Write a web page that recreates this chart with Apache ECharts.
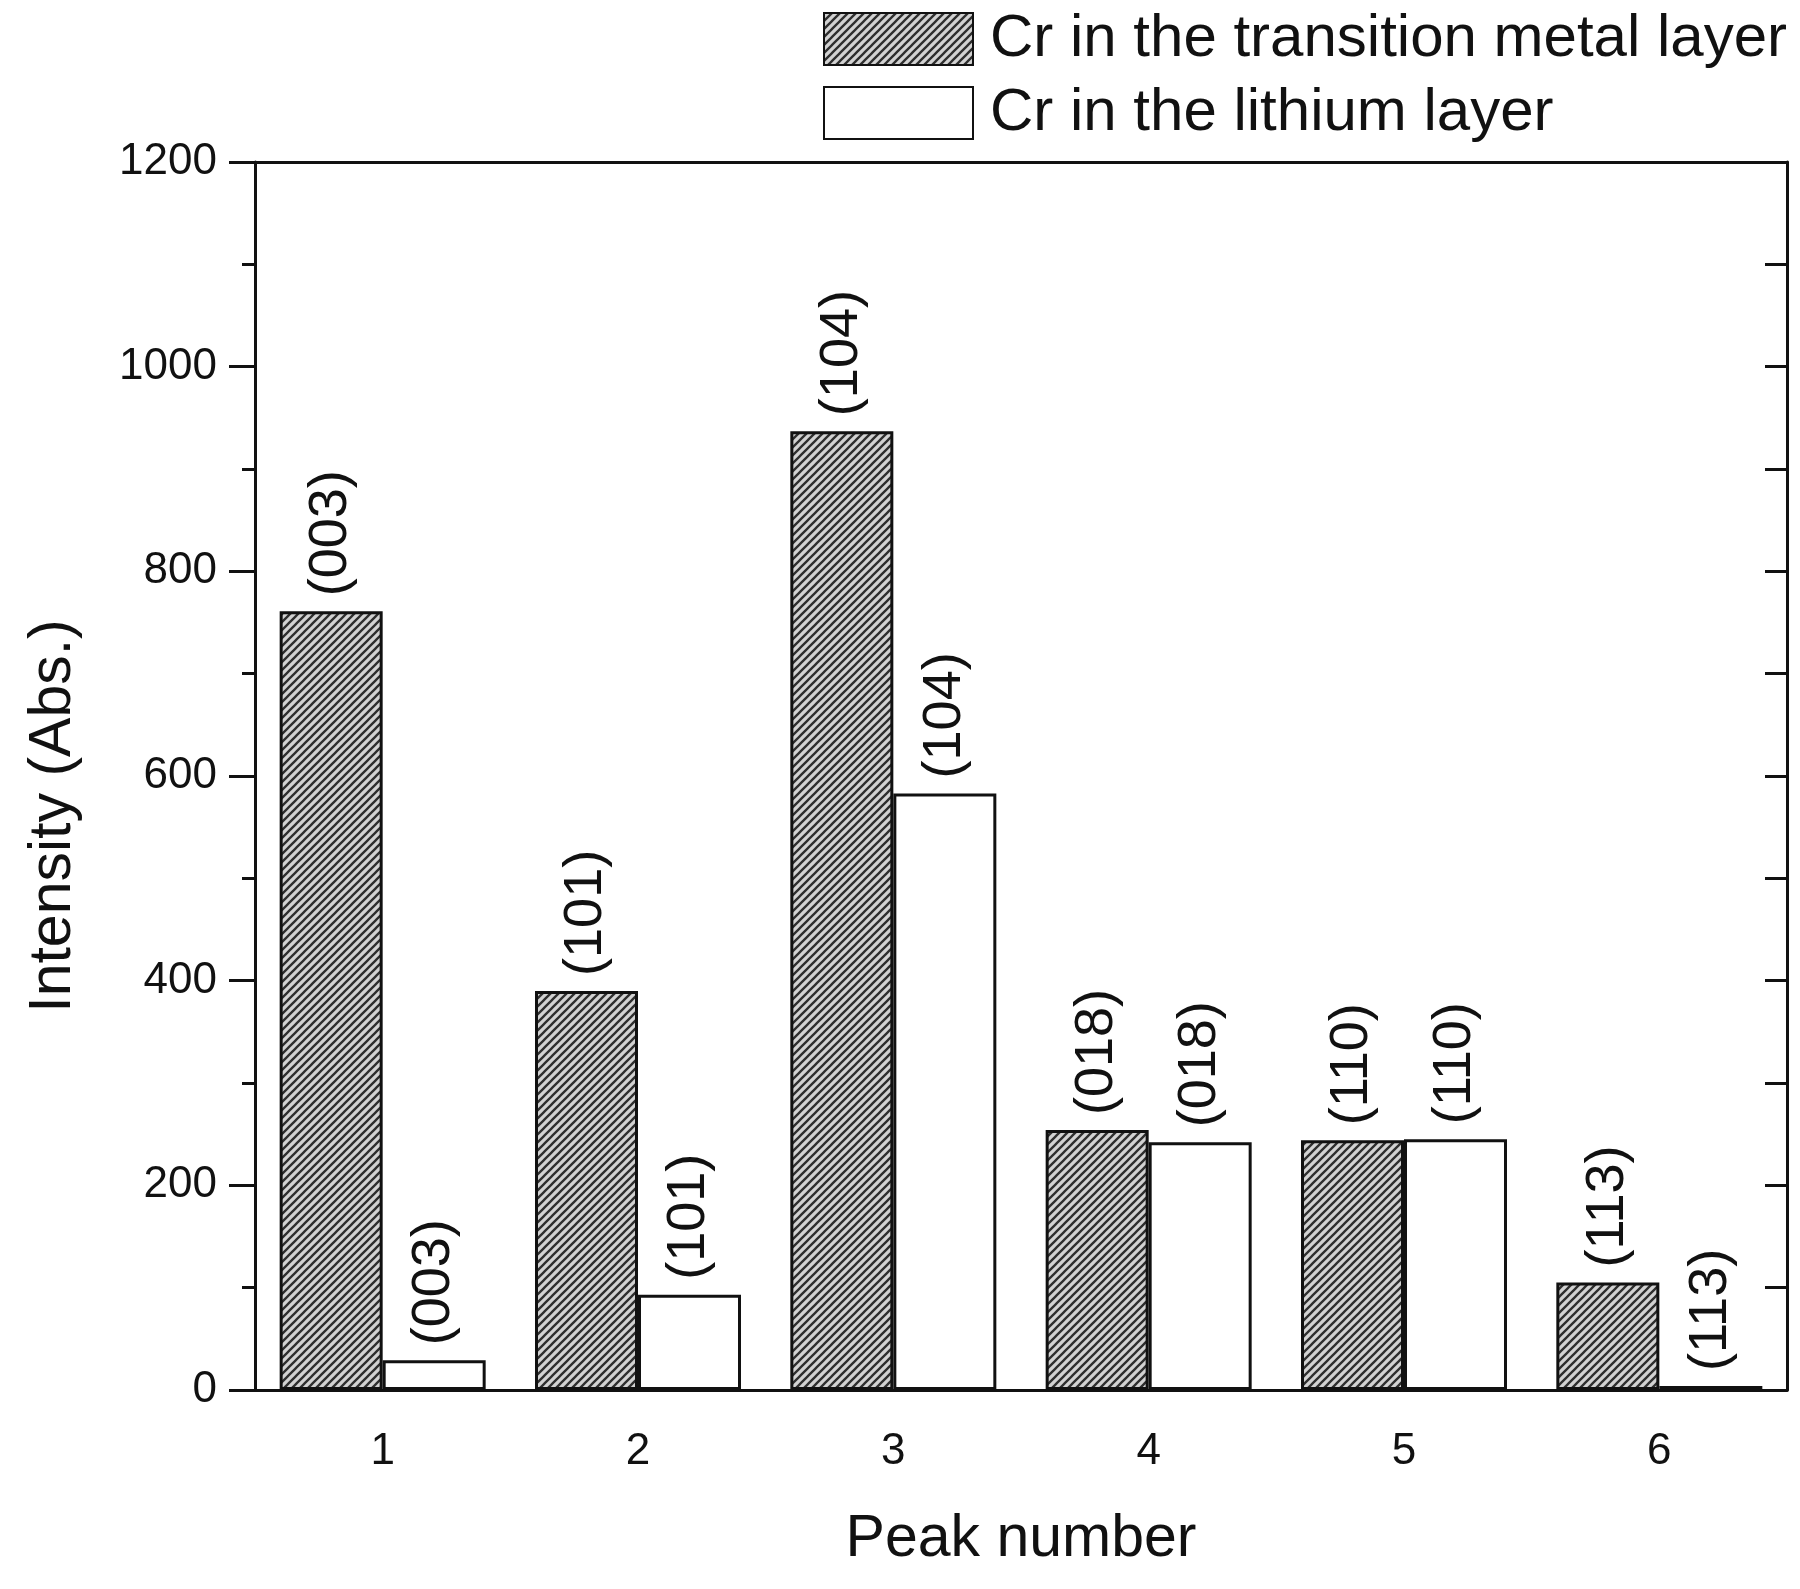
<!DOCTYPE html>
<html>
<head>
<meta charset="utf-8">
<title>Peak intensity</title>
<script src="https://cdn.jsdelivr.net/npm/echarts@6/dist/echarts.min.js"></script>
<style>
  html, body { margin: 0; padding: 0; background: #fff; }
  #main { width: 1800px; height: 1589px; }
</style>
</head>
<body>
<div id="main"></div>
<script>
var categories = ['1', '2', '3', '4', '5', '6'];
var planes = ['(003)', '(101)', '(104)', '(018)', '(110)', '(113)'];
var tmLayer = [761, 390, 937, 254, 244, 105];
var liLayer = [29, 93, 583, 242, 245, 4];
var yTicks = [0, 200, 400, 600, 800, 1000, 1200];

var FONT = '"Liberation Sans", Arial, sans-serif';

// diagonal hatch like the original
function hatch() {
    var c = document.createElement('canvas');
    c.width = 8; c.height = 8;
    var ctx = c.getContext('2d');
    ctx.fillStyle = '#d2d2d2';
    ctx.fillRect(0, 0, 8, 8);
    ctx.strokeStyle = '#2e2e2e';
    ctx.lineWidth = 2.3;
    ctx.beginPath();
    ctx.moveTo(-2, 10); ctx.lineTo(10, -2);
    ctx.moveTo(-6, 6); ctx.lineTo(6, -6);
    ctx.moveTo(2, 14); ctx.lineTo(14, 2);
    ctx.stroke();
    return c;
}

var myChart = echarts.init(document.getElementById('main'));

var label = {
    show: true,
    position: 'top',
    rotate: 90,
    align: 'left',
    verticalAlign: 'middle',
    distance: 15,
    fontSize: 54,
    fontFamily: FONT,
    color: '#111',
    formatter: function (p) { return planes[p.dataIndex]; }
};

var lineStyle = { color: '#111', width: 3 };

var option = {
    backgroundColor: '#fff',
    animation: false,
    textStyle: { fontFamily: FONT },
    grid: { left: 255, right: 13, top: 162, bottom: 199 },
    legend: {
        orient: 'vertical',
        left: 818,
        top: 4,
        itemWidth: 149,
        itemHeight: 52,
        itemGap: 14,
        textStyle: { fontSize: 60, fontFamily: FONT, color: '#111', padding: [0, 0, 0, 12] },
        data: [
            { name: 'Cr in the transition metal layer', icon: 'rect' },
            { name: 'Cr in the lithium layer', icon: 'rect' }
        ]
    },
    xAxis: [
        {
            type: 'category',
            data: categories,
            position: 'bottom',
            axisLine: { lineStyle: lineStyle },
            axisTick: { alignWithLabel: true, length: 26, lineStyle: lineStyle },
            axisLabel: { fontSize: 44, margin: 40, color: '#111' },
            name: 'Peak number',
            nameLocation: 'middle',
            nameGap: 120,
            nameTextStyle: { fontSize: 59, color: '#111' }
        },
        {
            type: 'category',
            data: categories,
            position: 'bottom',
            axisLine: { show: false },
            axisTick: { length: 13, lineStyle: lineStyle },
            axisLabel: { show: false }
        },
        {
            type: 'category',
            data: categories,
            position: 'top',
            axisLine: { lineStyle: lineStyle },
            axisTick: { alignWithLabel: true, inside: true, length: 24, lineStyle: lineStyle },
            axisLabel: { show: false }
        },
        {
            type: 'category',
            data: categories,
            position: 'top',
            axisLine: { show: false },
            axisTick: { inside: true, length: 20, lineStyle: lineStyle },
            axisLabel: { show: false }
        }
    ],
    yAxis: [
        {
            type: 'value',
            min: yTicks[0],
            max: yTicks[yTicks.length - 1],
            interval: 200,
            position: 'left',
            axisLine: { show: true, lineStyle: lineStyle },
            axisTick: { show: true, length: 26, lineStyle: lineStyle },
            minorTick: { show: true, splitNumber: 2, length: 13, lineStyle: lineStyle },
            splitLine: { show: false },
            axisLabel: {
                fontSize: 44, margin: 38, color: '#111',
                formatter: function (v) { return String(v); }
            },
            name: 'Intensity (Abs.)',
            nameLocation: 'middle',
            nameGap: 172,
            nameTextStyle: { fontSize: 59, color: '#111', padding: [0, 80, 0, 0] }
        },
        {
            type: 'value',
            min: yTicks[0],
            max: yTicks[yTicks.length - 1],
            interval: 200,
            position: 'right',
            axisLine: { show: true, lineStyle: lineStyle },
            axisTick: { show: true, inside: true, length: 22, lineStyle: lineStyle },
            minorTick: { show: true, splitNumber: 2, length: 22, lineStyle: lineStyle },
            splitLine: { show: false },
            axisLabel: { show: false }
        }
    ],
    series: [
        {
            name: 'Cr in the transition metal layer',
            type: 'bar',
            barWidth: 103,
            barGap: '0%',
            data: tmLayer,
            itemStyle: {
                color: { image: hatch(), repeat: 'repeat' },
                borderColor: '#111',
                borderWidth: 3
            },
            label: label
        },
        {
            name: 'Cr in the lithium layer',
            type: 'bar',
            barWidth: 103,
            barGap: '0%',
            data: liLayer,
            itemStyle: {
                color: '#fff',
                borderColor: '#111',
                borderWidth: 3
            },
            label: label
        }
    ]
};

myChart.setOption(option);
</script>
</body>
</html>
